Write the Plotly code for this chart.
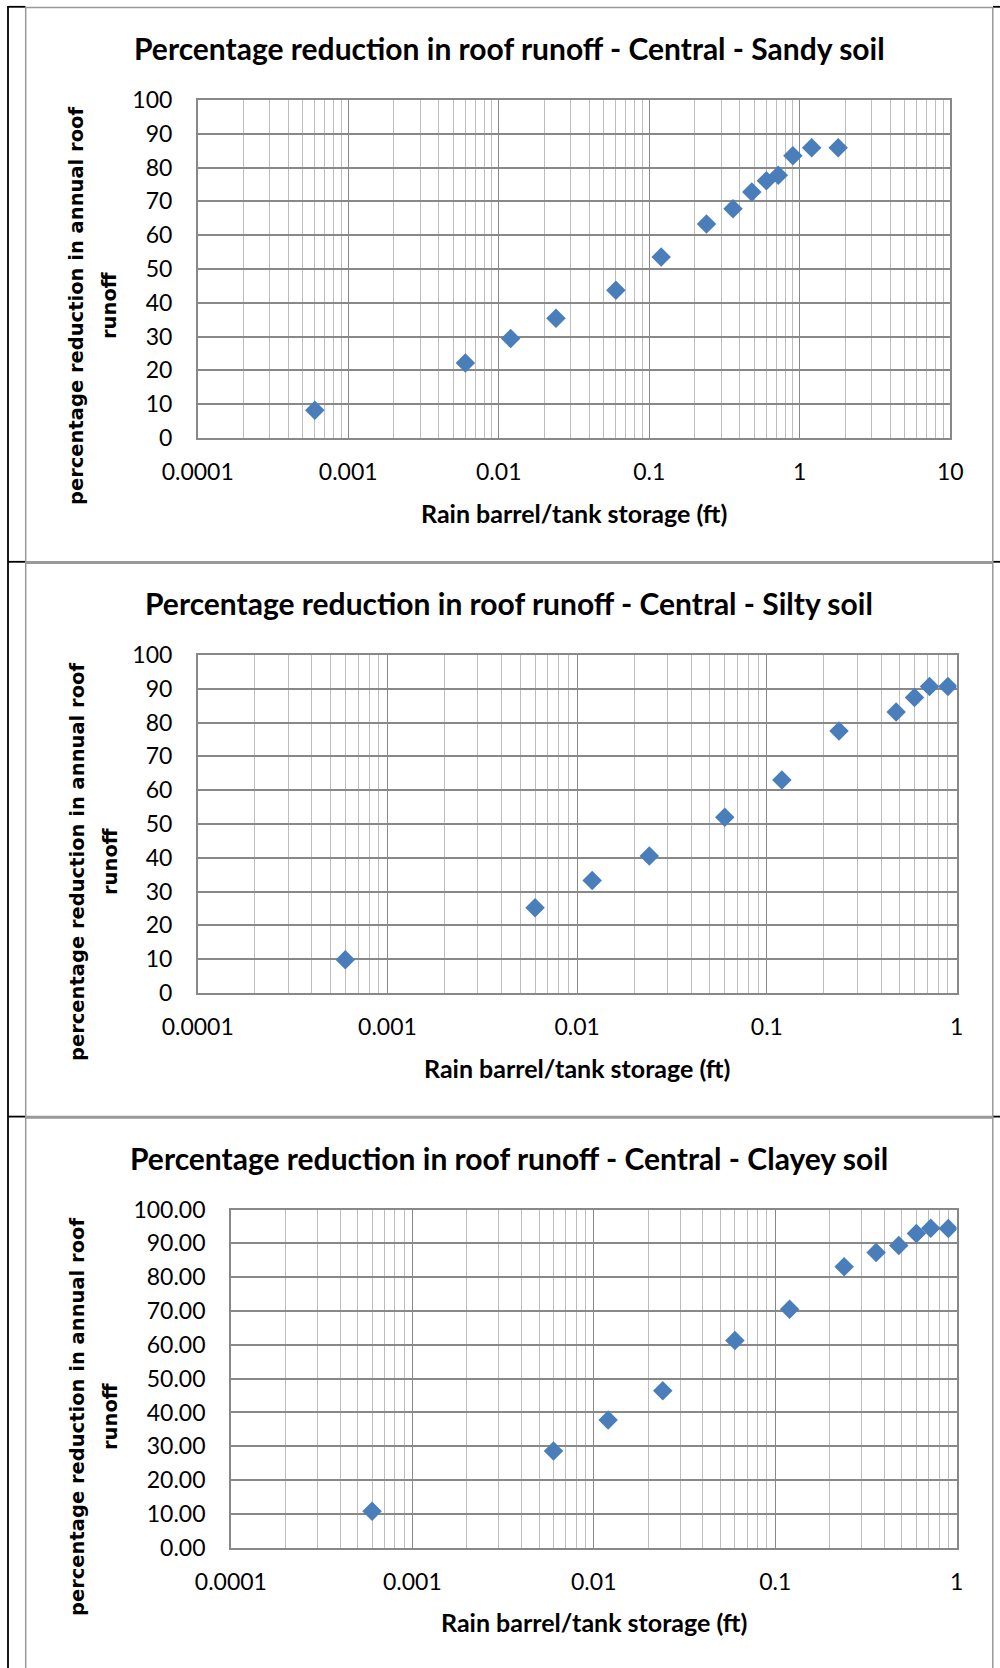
import plotly.graph_objects as go

W, H = 1000, 1668

# storage (ft) vs % reduction
sandy_storage = [0.0006, 0.006, 0.012, 0.024, 0.06, 0.12, 0.24, 0.36, 0.48, 0.6, 0.72, 0.9, 1.2, 1.8]
sandy_reduction = [8.2, 22.2, 29.4, 35.4, 43.7, 53.5, 63.3, 67.8, 72.8, 76.1, 77.7, 83.5, 85.9, 85.9]

silty_storage = [0.0006, 0.006, 0.012, 0.024, 0.06, 0.12, 0.24, 0.48, 0.6, 0.72, 0.9]
silty_reduction = [9.8, 25.2, 33.3, 40.5, 52.0, 63.0, 77.5, 83.1, 87.4, 90.7, 90.7]

clayey_storage = [0.0006, 0.006, 0.012, 0.024, 0.06, 0.12, 0.24, 0.36, 0.48, 0.6, 0.72, 0.9]
clayey_reduction = [10.8, 28.6, 37.8, 46.4, 61.3, 70.5, 83.1, 87.3, 89.4, 92.9, 94.5, 94.4]

x_ticks_10 = [0.0001, 0.001, 0.01, 0.1, 1, 10]
x_labels_10 = ["0.0001", "0.001", "0.01", "0.1", "1", "10"]
x_ticks_1 = [0.0001, 0.001, 0.01, 0.1, 1]
x_labels_1 = ["0.0001", "0.001", "0.01", "0.1", "1"]

titles = [
    "Percentage reduction in roof runoff - Central - Sandy soil",
    "Percentage reduction in roof runoff - Central - Silty soil",
    "Percentage reduction in roof runoff - Central - Clayey soil",
]
x_title = "Rain barrel/tank storage (ft)"
y_title_lines = ["percentage reduction in annual roof", "runoff"]

# pixel layout of each panel: plot box (x0, x1, y0, y1), title y, x-title (x, y), y-title center y
panels = [
    dict(x=sandy_storage, y=sandy_reduction, ticks=x_ticks_10, labels=x_labels_10, top=1,
         box=(197.7, 950.3, 100, 437.9), title_y=48, xt=(574, 513), yt_y=306, fmt=""),
    dict(x=silty_storage, y=silty_reduction, ticks=x_ticks_1, labels=x_labels_1, top=0,
         box=(197.7, 956.6, 655, 992.9), title_y=603, xt=(577, 1068), yt_y=862, fmt=""),
    dict(x=clayey_storage, y=clayey_reduction, ticks=x_ticks_1, labels=x_labels_1, top=0,
         box=(230.9, 956.6, 1209.6, 1547.7), title_y=1158, xt=(594, 1622), yt_y=1417, fmt=".2f"),
]

def px(x):
    return x / W

def py(y):
    return 1 - y / H

BODY = "Lato, 'Open Sans', sans-serif"
GRID = "#888888"
MINOR = "#bdbdbd"
BLUE = "#4A7EBB"

fig = go.Figure()
annotations = []
layout = {}

for i, p in enumerate(panels, start=1):
    sfx = "" if i == 1 else str(i)
    fig.add_trace(go.Scatter(
        x=p["x"], y=p["y"], mode="markers",
        marker=dict(symbol="diamond", size=15, color=BLUE, line=dict(width=0)),
        xaxis="x" + sfx, yaxis="y" + sfx, showlegend=False,
    ))
    x0, x1, y0, y1 = p["box"]
    minor_vals = [m * 10.0 ** e for e in range(-4, p["top"]) for m in range(2, 10)]
    layout["xaxis" + sfx] = dict(
        type="log", range=[-4, p["top"]], domain=[px(x0), px(x1)], anchor="y" + sfx,
        tickmode="array", tickvals=p["ticks"], ticktext=p["labels"], automargin=False,
        showgrid=True, gridcolor=GRID, gridwidth=1.3,
        minor=dict(tickmode="array", tickvals=minor_vals, showgrid=True,
                   gridcolor=MINOR, gridwidth=1, ticks=""),
        showline=True, linecolor=GRID, linewidth=1.5, mirror=True,
        ticks="", ticklabelstandoff=13, zeroline=False,
        tickfont=dict(family=BODY, size=23, color="#000"),
    )
    layout["yaxis" + sfx] = dict(
        range=[0, 100], dtick=10, tick0=0, domain=[py(y1), py(y0)], anchor="x" + sfx,
        automargin=False,
        showgrid=True, gridcolor=GRID, gridwidth=1.5,
        showline=True, linecolor=GRID, linewidth=1.5, mirror=True,
        ticks="", ticklabelstandoff=19, zeroline=False, tickformat=p["fmt"],
        tickfont=dict(family=BODY, size=23, color="#000"),
    )
    annotations.append(dict(
        text="<b>%s</b>" % titles[i - 1], x=px(509.5), y=py(p["title_y"]),
        xref="paper", yref="paper", showarrow=False, xanchor="center", yanchor="middle",
        font=dict(family=BODY, size=30, color="#000"),
    ))
    annotations.append(dict(
        text="<b>%s</b>" % x_title, x=px(p["xt"][0]), y=py(p["xt"][1]),
        xref="paper", yref="paper", showarrow=False, xanchor="center", yanchor="middle",
        font=dict(family=BODY, size=25, color="#000"),
    ))
    for line, lx in zip(y_title_lines, [77, 110]):
        annotations.append(dict(
            text="<b>%s</b>" % line, x=px(lx), y=py(p["yt_y"]), textangle=-90,
            xref="paper", yref="paper", showarrow=False, xanchor="center", yanchor="middle",
            font=dict(family="DejaVu Sans", size=19.5, color="#000"),
        ))

# table borders: black outer frame, grey frame around each chart image
shapes = []
black = dict(color="#000", width=1.8)
grey = dict(color="#999", width=1.5)
shapes.append(dict(type="line", x0=px(8), x1=px(8), y0=py(6), y1=py(H), line=black))
for yy, gw in [(6.8, 1.5), (561.8, 3), (1116.6, 3)]:
    shapes.append(dict(type="line", x0=px(8), x1=px(25.5), y0=py(yy), y1=py(yy), line=black))
    shapes.append(dict(type="line", x0=px(993), x1=px(W), y0=py(yy), y1=py(yy), line=black))
    shapes.append(dict(type="line", x0=px(25.5), x1=px(993), y0=py(yy + 0.7), y1=py(yy + 0.7),
                       line=dict(color="#999", width=gw)))
for xx in [25.7, 992.8]:
    shapes.append(dict(type="line", x0=px(xx), x1=px(xx), y0=py(7), y1=py(H), line=grey))
for s in shapes:
    s.update(xref="paper", yref="paper")

fig.update_layout(
    width=W, height=H, margin=dict(l=0, r=0, t=0, b=0),
    paper_bgcolor="white", plot_bgcolor="white",
    annotations=annotations, shapes=shapes, **layout,
)

# drop the browser's default 8px body margin so the figure sits at the page origin
fig.write_html("out.html", config={"displayModeBar": False},
               post_script="document.body.style.margin='0';")
